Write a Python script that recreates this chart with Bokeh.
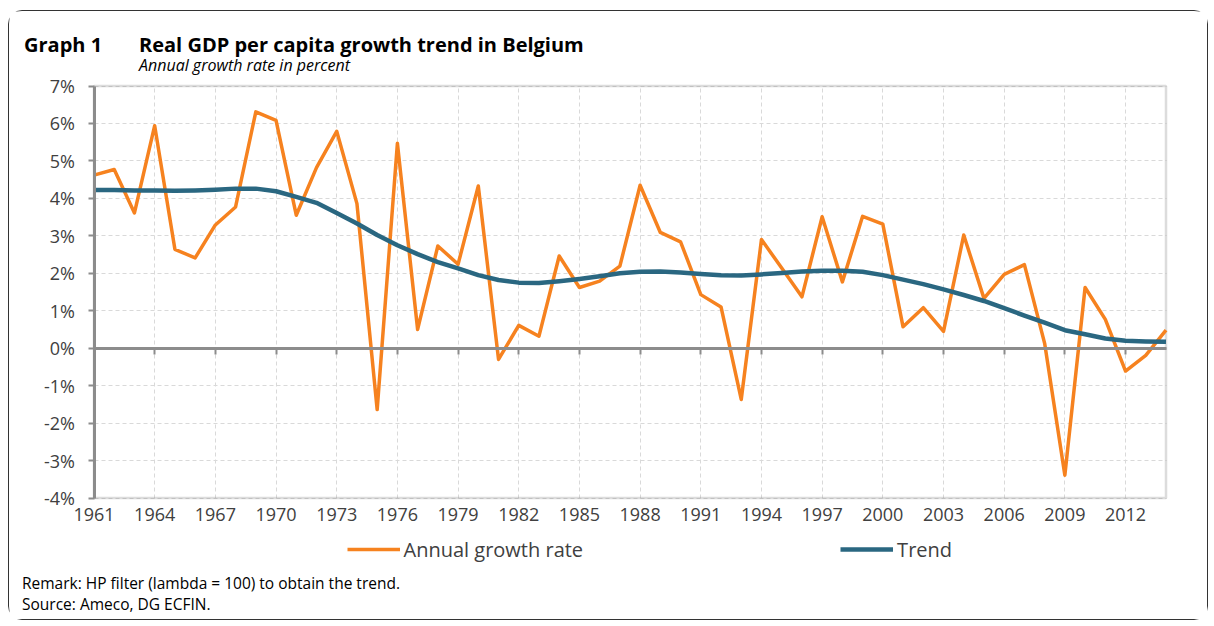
from bokeh.plotting import figure
from bokeh.models import (Range1d, FixedTicker, LinearAxis, Legend, LegendItem,
                          Label, ColumnDataSource, Grid, BoxAnnotation)
from bokeh.embed import file_html
from bokeh.resources import INLINE

# ---------------- data ----------------
years = list(range(1961, 2015))
annual_growth = [4.62, 4.77, 3.61, 5.94, 2.64, 2.41, 3.29, 3.77, 6.31, 6.08,
                 3.55, 4.82, 5.79, 3.86, -1.64, 5.47, 0.50, 2.73, 2.24, 4.33,
                 -0.30, 0.61, 0.32, 2.46, 1.62, 1.79, 2.19, 4.35, 3.09, 2.84,
                 1.43, 1.10, -1.37, 2.90, 2.14, 1.37, 3.51, 1.77, 3.52, 3.31,
                 0.57, 1.08, 0.45, 3.02, 1.33, 1.97, 2.23, 0.13, -3.39, 1.62,
                 0.77, -0.61, -0.19, 0.48]
trend = [4.22, 4.22, 4.21, 4.21, 4.20, 4.21, 4.23, 4.26, 4.26, 4.19,
         4.04, 3.88, 3.61, 3.33, 3.02, 2.75, 2.51, 2.30, 2.13, 1.95,
         1.82, 1.75, 1.74, 1.79, 1.85, 1.92, 2.00, 2.04, 2.05, 2.02,
         1.98, 1.95, 1.94, 1.97, 2.01, 2.05, 2.07, 2.07, 2.04, 1.95,
         1.83, 1.71, 1.57, 1.42, 1.26, 1.07, 0.87, 0.68, 0.48, 0.37,
         0.26, 0.20, 0.18, 0.17]
x_ticks = [1961, 1964, 1967, 1970, 1973, 1976, 1979, 1982, 1985, 1988,
           1991, 1994, 1997, 2000, 2003, 2006, 2009, 2012]
y_ticks = [-4, -3, -2, -1, 0, 1, 2, 3, 4, 5, 6, 7]
y_tick_labels = ["-4%", "-3%", "-2%", "-1%", "0%", "1%", "2%", "3%", "4%",
                 "5%", "6%", "7%"]
x_min, x_max = 1961, 2014
y_min, y_max = -4, 7
series_names = ["Annual growth rate", "Trend"]
title_tag = "Graph 1"
title_text = "Real GDP per capita growth trend in Belgium"
subtitle_text = "Annual growth rate in percent"
footer_lines = ["Remark: HP filter (lambda = 100) to obtain the trend.",
                "Source: Ameco, DG ECFIN."]

ORANGE = "#F6821F"
TEAL = "#2A6781"
AXIS_GREY = "#8C8C8C"
GRID_GREY = "#D9D9D9"
TEXT_GREY = "#404040"
FONT = "Open Sans"

# ---------------- layout (pixels) ----------------
W, H = 1200, 610
OX, OY = 9.5, 11.5                      # page position of the canvas origin
FL, FR, FT, FB = 94, 1166, 86, 498      # page position of the plotting box

xs = (x_max - x_min) / (FR - FL)
ys = (y_max - y_min) / (FB - FT)
x_start = x_min - (FL - OX) * xs
x_end = x_max + (OX + W - FR) * xs
y_end = y_max + (FT - OY) * ys
y_start = y_min - (OY + H - FB) * ys


def px_x(page_x):
    return x_start + (page_x - OX) * xs


def px_y(page_y):
    return y_end - (page_y - OY) * ys


src = ColumnDataSource(dict(year=years, growth=annual_growth, trend=trend))

p = figure(width=W, height=H, output_backend="svg", toolbar_location=None,
           x_range=Range1d(x_start, x_end), y_range=Range1d(y_start, y_end),
           x_axis_location=None, y_axis_location=None, min_border=0,
           styles={"border": "1.5px solid #333333", "border-radius": "14px",
                   "margin-left": "8px", "margin-top": "10px"})
p.outline_line_color = None
p.background_fill_color = "white"
p.border_fill_color = "white"
p.xgrid.visible = False
p.ygrid.visible = False

# grids bounded to the plotting box
vgrid = Grid(dimension=0, ticker=FixedTicker(ticks=x_ticks),
             bounds=(x_min, x_max), cross_bounds=(y_min, y_max),
             grid_line_color=GRID_GREY, grid_line_dash="4 3", grid_line_width=1)
hgrid = Grid(dimension=1, ticker=FixedTicker(ticks=y_ticks),
             bounds=(y_min, y_max), cross_bounds=(x_min, x_max),
             grid_line_color=GRID_GREY, grid_line_dash="4 3", grid_line_width=1)
p.add_layout(vgrid)
p.add_layout(hgrid)

# plot box border
box = BoxAnnotation(left=x_min, right=x_max, bottom=y_min, top=y_max,
                    fill_color=None, line_color=AXIS_GREY, line_width=2.5,
                    level="underlay")
p.add_layout(box)

# x axis at zero with ticks; labels pushed below the box
xa = LinearAxis(fixed_location=0, ticker=FixedTicker(ticks=x_ticks),
                bounds=(x_min, x_max),
                axis_line_color=AXIS_GREY, axis_line_width=3,
                major_tick_out=6, major_tick_in=0,
                major_tick_line_color=AXIS_GREY, major_tick_line_width=2,
                minor_tick_line_color=None,
                major_label_standoff=int(round((FB - FT) * (0 - y_min) / (y_max - y_min))) + 4,
                major_label_text_font=FONT, major_label_text_font_size="18px",
                major_label_text_color=TEXT_GREY)
p.add_layout(xa, "below")

# y axis
ya = LinearAxis(fixed_location=x_min, ticker=FixedTicker(ticks=y_ticks),
                bounds=(y_min, y_max),
                major_label_overrides={t: l for t, l in zip(y_ticks, y_tick_labels)},
                axis_line_color=AXIS_GREY, axis_line_width=3,
                major_tick_out=6, major_tick_in=0,
                major_tick_line_color=AXIS_GREY, major_tick_line_width=2,
                minor_tick_line_color=None, major_label_standoff=13,
                major_label_text_font=FONT, major_label_text_font_size="18px",
                major_label_text_color=TEXT_GREY)
p.add_layout(ya, "left")

r1 = p.line("year", "growth", source=src, line_color=ORANGE, line_width=3.5,
            line_join="round")
r2 = p.line("year", "trend", source=src, line_color=TEAL, line_width=4.5,
            line_join="round")

legend = Legend(items=[LegendItem(label=series_names[0], renderers=[r1]),
                       LegendItem(label=series_names[1], renderers=[r2])],
                orientation="horizontal",
                location=(347 - OX, OY + H - 563),
                glyph_width=53, glyph_height=22, label_standoff=4,
                spacing=257, padding=0, margin=0,
                border_line_color=None, background_fill_alpha=0,
                label_text_font=FONT, label_text_font_size="20px",
                label_text_color=TEXT_GREY, label_height=22)
p.add_layout(legend, "center")


def add_label(page_x, page_y, text, size, style="normal", color="black"):
    p.add_layout(Label(x=px_x(page_x), y=px_y(page_y), text=text,
                       text_font=FONT, text_font_size=size,
                       text_font_style=style, text_color=color,
                       text_baseline="middle", text_align="left"))


add_label(24, 44, title_tag, "20px", "bold")
add_label(139, 44, title_text, "20px", "bold")
add_label(139, 65, subtitle_text, "16px", "italic")
add_label(22, 583, footer_lines[0], "15.5px")
add_label(22, 604, footer_lines[1], "15.5px")

open("out.html", "w").write(file_html(p, INLINE))
